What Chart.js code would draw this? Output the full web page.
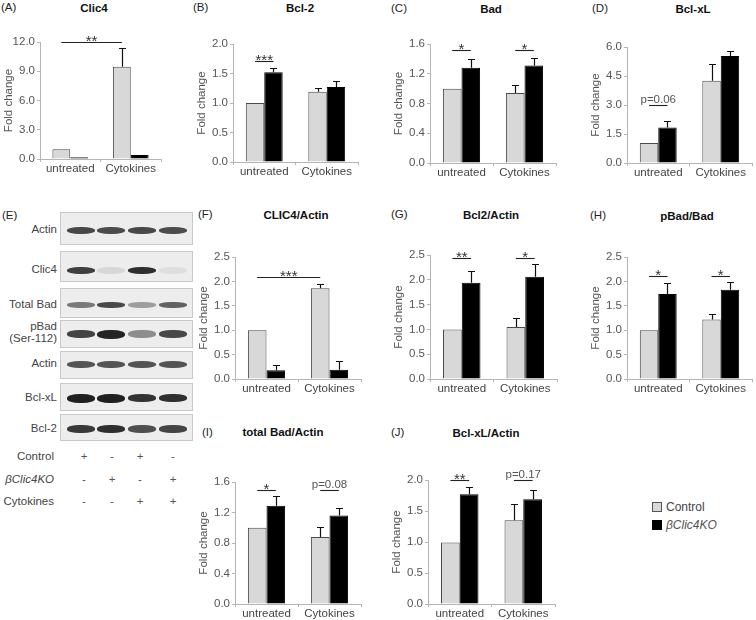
<!DOCTYPE html>
<html><head><meta charset="utf-8">
<script src="https://cdn.jsdelivr.net/npm/chart.js@4.4.1/dist/chart.umd.min.js"></script>
<style>
html,body{margin:0;padding:0;background:#fff;}
body{width:756px;height:620px;position:relative;overflow:hidden;font-family:'Liberation Sans',Arial,sans-serif;}
.t{position:absolute;white-space:nowrap;line-height:1;}
.c{transform:translate(-50%,-50%);}
.r{transform:translate(-100%,-50%);text-align:right;}
.l{transform:translate(0,-50%);}
.ttl{font-weight:bold;font-size:11.5px;color:#111;}
.lab{font-size:11.5px;color:#222;}
.txt{font-size:11.5px;color:#444;}
canvas{position:absolute;}
.box{position:absolute;background:#ededed;border:1px solid #c9c9c9;box-sizing:border-box;}
.band{position:absolute;border-radius:45%;filter:blur(0.7px);}
</style></head>
<body>
<script>
// ---------- data ----------
const categories = ['untreated', 'Cytokines'];
const seriesNames = ['Control', 'βClic4KO'];

// (A) Clic4
const clic4Ctrl = [1.0, 9.45];
const clic4CtrlErr = [0, 1.9];
const clic4KO = [0.18, 0.42];
const clic4KOErr = [0, 0];
const clic4Ticks = [0, 3, 6, 9, 12];
const clic4Sig = [{a: [0, 0], b: [1, 0], y: 12.0, text: '**'}];

// (B) Bcl-2
const bcl2Ctrl = [1.0, 1.19];
const bcl2CtrlErr = [0, 0.07];
const bcl2KO = [1.52, 1.27];
const bcl2KOErr = [0.07, 0.10];
const bcl2Ticks = [0, 0.5, 1.0, 1.5, 2.0];
const bcl2Sig = [{a: [0, 0], b: [0, 1], y: 1.71, text: '***'}];

// (C) Bad
const badCtrl = [1.0, 0.94];
const badCtrlErr = [0, 0.11];
const badKO = [1.28, 1.31];
const badKOErr = [0.12, 0.10];
const badTicks = [0, 0.4, 0.8, 1.2, 1.6];
const badSig = [{a: [0, 0], b: [0, 1], y: 1.525, text: '*'}, {a: [1, 0], b: [1, 1], y: 1.525, text: '*'}];

// (D) Bcl-xL
const bclxlCtrl = [1.03, 4.25];
const bclxlCtrlErr = [0, 0.89];
const bclxlKO = [1.83, 5.53];
const bclxlKOErr = [0.36, 0.26];
const bclxlTicks = [0, 1.5, 3.0, 4.5, 6.0];
const bclxlSig = [{a: [0, 0], b: [0, 1], y: 2.98, text: 'p=0.06'}];

// (F) CLIC4/Actin
const clic4ActCtrl = [1.0, 1.86];
const clic4ActCtrlErr = [0, 0.09];
const clic4ActKO = [0.18, 0.19];
const clic4ActKOErr = [0.11, 0.17];
const clic4ActTicks = [0, 0.5, 1.0, 1.5, 2.0, 2.5];
const clic4ActSig = [{a: [0, 0], b: [1, 0], y: 2.1, text: '***'}];

// (G) Bcl2/Actin
const bcl2ActCtrl = [1.0, 1.05];
const bcl2ActCtrlErr = [0, 0.17];
const bcl2ActKO = [1.94, 2.06];
const bcl2ActKOErr = [0.23, 0.26];
const bcl2ActTicks = [0, 0.5, 1.0, 1.5, 2.0, 2.5];
const bcl2ActSig = [{a: [0, 0], b: [0, 1], y: 2.43, text: '**'}, {a: [1, 0], b: [1, 1], y: 2.43, text: '*'}];

// (H) pBad/Bad
const pbadCtrl = [1.0, 1.22];
const pbadCtrlErr = [0, 0.11];
const pbadKO = [1.74, 1.83];
const pbadKOErr = [0.23, 0.16];
const pbadTicks = [0, 0.5, 1.0, 1.5, 2.0, 2.5];
const pbadSig = [{a: [0, 0], b: [0, 1], y: 2.12, text: '*'}, {a: [1, 0], b: [1, 1], y: 2.12, text: '*'}];

// (I) total Bad/Actin
const tbadCtrl = [1.0, 0.88];
const tbadCtrlErr = [0, 0.13];
const tbadKO = [1.29, 1.16];
const tbadKOErr = [0.12, 0.10];
const tbadTicks = [0, 0.4, 0.8, 1.2, 1.6];
const tbadSig = [{a: [0, 0], b: [0, 1], y: 1.49, text: '*'}, {a: [1, 0], b: [1, 1], y: 1.5, text: 'p=0.08'}];

// (J) Bcl-xL/Actin
const bclxlActCtrl = [0.99, 1.35];
const bclxlActCtrlErr = [0, 0.26];
const bclxlActKO = [1.77, 1.69];
const bclxlActKOErr = [0.11, 0.15];
const bclxlActTicks = [0, 0.5, 1.0, 1.5, 2.0];
const bclxlActSig = [{a: [0, 0], b: [0, 1], y: 2.0, text: '**'}, {a: [1, 0], b: [1, 1], y: 2.0, text: 'p=0.17'}];

// (E) western blot
const blotRows = ['Actin', 'Clic4', 'Total Bad', 'pBad|(Ser-112)', 'Actin', 'Bcl-xL', 'Bcl-2'];
const blotIntensity = [
  [0.78, 0.76, 0.78, 0.76],
  [0.82, 0.10, 0.90, 0.07],
  [0.55, 0.78, 0.38, 0.66],
  [0.80, 0.95, 0.45, 0.78],
  [0.72, 0.72, 0.72, 0.72],
  [0.97, 0.97, 0.88, 0.90],
  [0.85, 0.90, 0.75, 0.80]
];
const treatmentRows = ['Control', 'βClic4KO', 'Cytokines'];
const treatmentSigns = [
  ['+', '-', '+', '-'],
  ['-', '+', '-', '+'],
  ['-', '-', '+', '+']
];

// ---------- layout (positions, not data) ----------
const panels = [
  {id: 'A', title: 'Clic4', ctrl: clic4Ctrl, ce: clic4CtrlErr, ko: clic4KO, ke: clic4KOErr, ticks: clic4Ticks, sig: clic4Sig, dec: 1,
   g: {axisX: 40, right: 161, top: 42, bottom: 159}, lab: [1, 8], tt: [94, 9]},
  {id: 'B', title: 'Bcl-2', ctrl: bcl2Ctrl, ce: bcl2CtrlErr, ko: bcl2KO, ke: bcl2KOErr, ticks: bcl2Ticks, sig: bcl2Sig, dec: 1,
   g: {axisX: 233, right: 358, top: 44, bottom: 162}, lab: [193, 8], tt: [300, 9]},
  {id: 'C', title: 'Bad', ctrl: badCtrl, ce: badCtrlErr, ko: badKO, ke: badKOErr, ticks: badTicks, sig: badSig, dec: 1,
   g: {axisX: 430, right: 556, top: 44, bottom: 163}, lab: [391, 9], tt: [491, 10]},
  {id: 'D', title: 'Bcl-xL', ctrl: bclxlCtrl, ce: bclxlCtrlErr, ko: bclxlKO, ke: bclxlKOErr, ticks: bclxlTicks, sig: bclxlSig, dec: 1,
   g: {axisX: 627, right: 752, top: 47, bottom: 163}, lab: [592, 9], tt: [693, 10]},
  {id: 'F', title: 'CLIC4/Actin', ctrl: clic4ActCtrl, ce: clic4ActCtrlErr, ko: clic4ActKO, ke: clic4ActKOErr, ticks: clic4ActTicks, sig: clic4ActSig, dec: 1,
   g: {axisX: 235, right: 361, top: 257, bottom: 379}, lab: [198, 215], tt: [296, 216]},
  {id: 'G', title: 'Bcl2/Actin', ctrl: bcl2ActCtrl, ce: bcl2ActCtrlErr, ko: bcl2ActKO, ke: bcl2ActKOErr, ticks: bcl2ActTicks, sig: bcl2ActSig, dec: 1,
   g: {axisX: 430, right: 557, top: 255, bottom: 379}, lab: [391, 215], tt: [491, 216]},
  {id: 'H', title: 'pBad/Bad', ctrl: pbadCtrl, ce: pbadCtrlErr, ko: pbadKO, ke: pbadKOErr, ticks: pbadTicks, sig: pbadSig, dec: 1,
   g: {axisX: 627, right: 752, top: 257, bottom: 379}, lab: [590, 216], tt: [687, 217]},
  {id: 'I', title: 'total Bad/Actin', ctrl: tbadCtrl, ce: tbadCtrlErr, ko: tbadKO, ke: tbadKOErr, ticks: tbadTicks, sig: tbadSig, dec: 1,
   g: {axisX: 235, right: 361, top: 482, bottom: 604}, lab: [202, 433], tt: [283, 433]},
  {id: 'J', title: 'Bcl-xL/Actin', ctrl: bclxlActCtrl, ce: bclxlActCtrlErr, ko: bclxlActKO, ke: bclxlActKOErr, ticks: bclxlActTicks, sig: bclxlActSig, dec: 1,
   g: {axisX: 428, right: 555, top: 480, bottom: 604}, lab: [391, 433], tt: [486, 434]}
];

function addText(txt, x, y, cls, extra) {
  const d = document.createElement('div');
  d.className = 't ' + cls;
  d.textContent = txt;
  d.style.left = x + 'px';
  d.style.top = y + 'px';
  if (extra) Object.assign(d.style, extra);
  document.body.appendChild(d);
  return d;
}

// ---------- chart plugin: error bars and significance marks ----------
const extras = {
  id: 'extras',
  afterDatasetsDraw(chart, args, opts) {
    const ctx = chart.ctx, ys = chart.scales.y;
    ctx.save();
    ctx.strokeStyle = '#111';
    ctx.lineWidth = 1.2;
    chart.data.datasets.forEach((ds, di) => {
      const meta = chart.getDatasetMeta(di);
      meta.data.forEach((bar, i) => {
        const e = ds.errors[i];
        if (!e) return;
        const x = Math.round(bar.x) + 0.5;
        const y1 = Math.round(ys.getPixelForValue(ds.data[i] + e)) + 0.5;
        ctx.beginPath();
        ctx.moveTo(x, bar.y);
        ctx.lineTo(x, y1);
        ctx.moveTo(x - 3.5, y1);
        ctx.lineTo(x + 3.5, y1);
        ctx.stroke();
      });
    });
    (opts.sig || []).forEach(s => {
      const xa = chart.getDatasetMeta(s.a[1]).data[s.a[0]].x;
      const xb = chart.getDatasetMeta(s.b[1]).data[s.b[0]].x;
      const y = Math.round(ys.getPixelForValue(s.y)) + 0.5;
      ctx.strokeStyle = '#222';
      ctx.lineWidth = 1.1;
      ctx.beginPath();
      ctx.moveTo(xa, y);
      ctx.lineTo(xb, y);
      ctx.stroke();
      ctx.textAlign = 'center';
      ctx.textBaseline = 'alphabetic';
      if (s.text.startsWith('p')) {
        ctx.fillStyle = '#555';
        ctx.font = '11.5px "Liberation Sans", Arial, sans-serif';
        ctx.fillText(s.text, (xa + xb) / 2, y - 2.5);
      } else {
        ctx.fillStyle = '#333';
        ctx.font = '15px "Liberation Sans", Arial, sans-serif';
        ctx.fillText(s.text, (xa + xb) / 2, y + 3.5);
      }
    });
    ctx.restore();
  }
};

const FONT = {family: '"Liberation Sans", Arial, sans-serif', size: 11.5};

panels.forEach(p => {
  const g = p.g;
  const left = g.axisX - 38, top = g.top - 16;
  const w = g.right - g.axisX + 46, h = g.bottom - g.top + 16 + 22;
  const cv = document.createElement('canvas');
  cv.width = w; cv.height = h;
  cv.style.left = left + 'px'; cv.style.top = top + 'px';
  cv.style.width = w + 'px'; cv.style.height = h + 'px';
  document.body.appendChild(cv);

  addText('(' + p.id + ')', p.lab[0], p.lab[1], 'l lab');
  addText(p.title, p.tt[0], p.tt[1], 'c ttl');

  const tickVals = p.ticks;
  new Chart(cv, {
    type: 'bar',
    data: {
      labels: categories,
      datasets: [
        {label: seriesNames[0], data: p.ctrl, errors: p.ce, backgroundColor: '#d8d8d8', borderColor: '#4a4a4a', borderWidth: 1,
         barPercentage: 1, categoryPercentage: 0.59},
        {label: seriesNames[1], data: p.ko, errors: p.ke, backgroundColor: '#000', borderColor: '#000', borderWidth: 1,
         barPercentage: 1, categoryPercentage: 0.59}
      ]
    },
    options: {
      responsive: false,
      animation: false,
      devicePixelRatio: 1,
      layout: {padding: {left: 0, top: 16, right: 8, bottom: 0}},
      plugins: {legend: {display: false}, tooltip: {enabled: false}, extras: {sig: p.sig}},
      scales: {
        x: {
          type: 'category',
          offset: true,
          grid: {offset: true, drawOnChartArea: false, drawTicks: true, tickLength: 3, color: '#b5b5b5'},
          border: {color: '#b5b5b5'},
          ticks: {font: FONT, color: '#444', padding: 0, maxRotation: 0, autoSkip: false},
          afterFit: s => { s.height = 22; }
        },
        y: {
          min: 0,
          max: tickVals[tickVals.length - 1],
          afterBuildTicks: s => { s.ticks = tickVals.map(v => ({value: v})); },
          grid: {drawOnChartArea: false, drawTicks: true, tickLength: 3, color: '#b5b5b5'},
          border: {color: '#b5b5b5'},
          ticks: {font: FONT, color: '#555', padding: 2, callback: v => Number(v).toFixed(p.dec)},
          title: {display: true, text: 'Fold change', font: FONT, color: '#555', padding: {top: 0, bottom: 0}},
          afterFit: s => { s.width = 38; }
        }
      }
    },
    plugins: [extras]
  });
});

// ---------- (E) blot ----------
addText('(E)', 2, 216, 'l lab');
const boxes = [[212, 245], [251, 282], [288, 318], [320, 348], [351, 379], [383, 411], [414, 441]];
const bandY = [230, 270, 305, 334, 364, 398, 429];
const bandH = [7, 7, 6, 8, 7, 8, 8];
const laneX = [80.5, 111, 141.5, 173];
blotRows.forEach((name, r) => {
  const b = document.createElement('div');
  b.className = 'box';
  b.style.left = '60px'; b.style.width = '133px';
  b.style.top = boxes[r][0] + 'px'; b.style.height = (boxes[r][1] - boxes[r][0]) + 'px';
  document.body.appendChild(b);
  blotIntensity[r].forEach((a, k) => {
    const d = document.createElement('div');
    d.className = 'band';
    const bw = 28, bh = bandH[r] + (a > 0.9 ? 1 : 0);
    d.style.left = (laneX[k] - bw / 2) + 'px';
    d.style.top = (bandY[r] - bh / 2) + 'px';
    d.style.width = bw + 'px'; d.style.height = bh + 'px';
    d.style.background = 'rgba(25,25,25,' + a + ')';
    document.body.appendChild(d);
  });
  const parts = name.split('|');
  if (parts.length === 1) {
    addText(parts[0], 57, bandY[r], 'r txt');
  } else {
    addText(parts[0], 57, bandY[r] - 7, 'r txt');
    addText(parts[1], 57, bandY[r] + 5, 'r txt');
  }
});
const trY = [457, 480, 502];
const signX = [84, 112, 140, 173];
treatmentRows.forEach((name, r) => {
  const d = addText(name, 54, trY[r], 'r txt');
  if (r === 1) d.style.fontStyle = 'italic';
  treatmentSigns[r].forEach((s, k) => addText(s, signX[k], trY[r], 'c txt', {color: '#555'}));
});

// ---------- legend ----------
[['#d8d8d8', '#555'], ['#000', '#000']].forEach((c, i) => {
  const y = [507, 525][i];
  const sq = document.createElement('div');
  Object.assign(sq.style, {position: 'absolute', left: '652px', top: (y - 5) + 'px', width: '8px', height: '8px',
    background: c[0], border: '1px solid ' + c[1]});
  document.body.appendChild(sq);
  const t = addText(seriesNames[i], 666, y, 'l txt', {fontSize: '12px'});
  if (i === 1) { t.style.fontStyle = 'italic'; t.style.color = '#555'; }
});
</script>
</body></html>
